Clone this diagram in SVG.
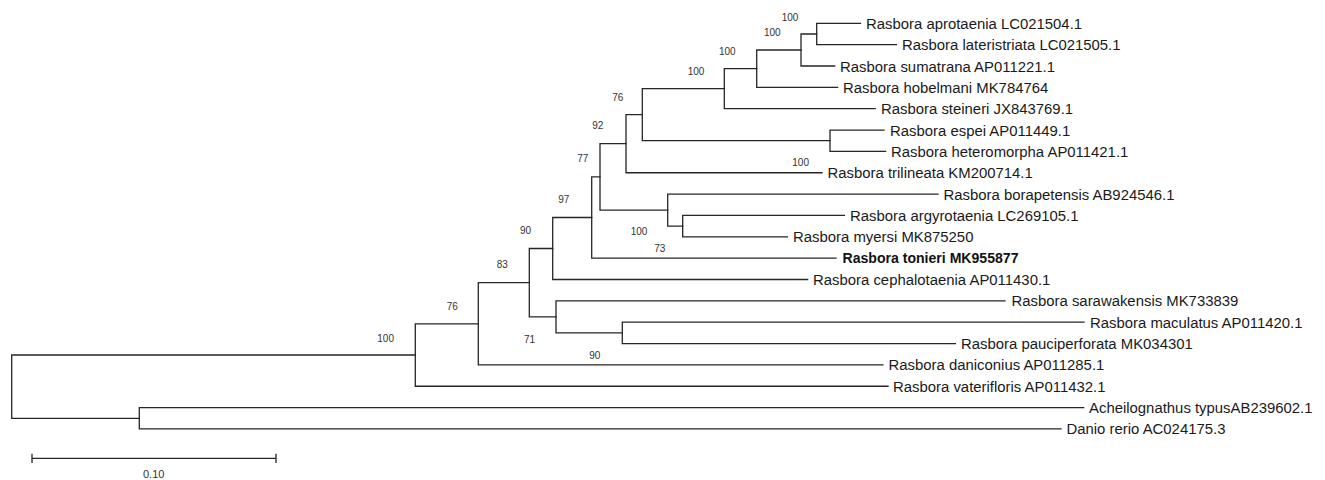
<svg xmlns="http://www.w3.org/2000/svg" width="1325" height="480" viewBox="0 0 1325 480">
<style>
.br{fill:none;stroke:#262626;stroke-width:1.3;stroke-linecap:square}
.tx{font-family:"Liberation Sans",Arial,sans-serif;font-size:14.9px;fill:#1a1a1a}
.bd{font-family:"Liberation Sans",Arial,sans-serif;font-size:14px;font-weight:bold;fill:#111}
.bs{font-family:"Liberation Sans",Arial,sans-serif;font-size:10px;fill:#333}
.sc{font-family:"Liberation Sans",Arial,sans-serif;font-size:11px;fill:#333}
</style>
<rect width="1325" height="480" fill="#fff"/>
<g id="connectors" class="br">
<!-- N1 -->
<path d="M816.7 23.3V44.65M816.7 23.3H860.5M816.7 44.65H896.4"/>
<!-- N2 -->
<path d="M801 34V66M801 34H816.7M801 66H834.7"/>
<!-- N3 -->
<path d="M756.7 50V87.35M756.7 50H801M756.7 87.35H837.6"/>
<!-- N4 -->
<path d="M724.3 68.7V108.7M724.3 68.7H756.7M724.3 108.7H875.2"/>
<!-- N5 -->
<path d="M830 130.05V151.4M830 130.05H884M830 151.4H885.6"/>
<!-- N6 -->
<path d="M642.3 88.7V140.7M642.3 88.7H724.3M642.3 140.7H830"/>
<!-- N7 -->
<path d="M626 114.7V172.75M626 114.7H642.3M626 172.75H822"/>
<!-- N8 -->
<path d="M682.7 215.45V236.8M682.7 215.45H844.4M682.7 236.8H787.5"/>
<!-- N9 -->
<path d="M667.7 194.1V226.1M667.7 194.1H938M667.7 226.1H682.7"/>
<!-- N10 -->
<path d="M600 143.7V210.1M600 143.7H626M600 210.1H667.7"/>
<!-- N11 -->
<path d="M591.7 176.9V258.15M591.7 176.9H600M591.7 258.15H836"/>
<!-- N12 -->
<path d="M552.7 217.5V279.5M552.7 217.5H591.7M552.7 279.5H807.6"/>
<!-- N13 -->
<path d="M622.3 322.2V343.55M622.3 322.2H1084M622.3 343.55H955.4"/>
<!-- N14 -->
<path d="M556 300.85V332.9M556 300.85H1005M556 332.9H622.3"/>
<!-- N15 -->
<path d="M529.3 248.5V316.9M529.3 248.5H552.7M529.3 316.9H556"/>
<!-- N16 -->
<path d="M478.3 282.7V364.9M478.3 282.7H529.3M478.3 364.9H882.9"/>
<!-- N17 -->
<path d="M415.3 323.8V386.25M415.3 323.8H478.3M415.3 386.25H888"/>
<!-- N18 -->
<path d="M139.3 407.6V428.95M139.3 407.6H1083.7M139.3 428.95H1061"/>
<!-- root -->
<path d="M11.7 355V418.3M11.7 355H415.3M11.7 418.3H139.3"/>
</g>
<g id="taxa">
<g id="t-aprotaenia"><text class="tx" x="866" y="28.8">Rasbora aprotaenia LC021504.1</text></g>
<g id="t-lateristriata"><text class="tx" x="902" y="50.15">Rasbora lateristriata LC021505.1</text></g>
<g id="t-sumatrana"><text class="tx" x="840" y="71.5">Rasbora sumatrana AP011221.1</text></g>
<g id="t-hobelmani"><text class="tx" x="843" y="92.85">Rasbora hobelmani MK784764</text></g>
<g id="t-steineri"><text class="tx" x="881" y="114.2">Rasbora steineri JX843769.1</text></g>
<g id="t-espei"><text class="tx" x="890" y="135.55">Rasbora espei AP011449.1</text></g>
<g id="t-heteromorpha"><text class="tx" x="891" y="156.9">Rasbora heteromorpha AP011421.1</text></g>
<g id="t-trilineata"><text class="tx" x="827.5" y="178.25">Rasbora trilineata KM200714.1</text></g>
<g id="t-borapetensis"><text class="tx" x="943.5" y="199.6">Rasbora borapetensis AB924546.1</text></g>
<g id="t-argyrotaenia"><text class="tx" x="850" y="220.95">Rasbora argyrotaenia LC269105.1</text></g>
<g id="t-myersi"><text class="tx" x="793" y="242.3">Rasbora myersi MK875250</text></g>
<g id="t-tonieri"><text class="bd" x="842.5" y="263.4" textLength="176" lengthAdjust="spacingAndGlyphs">Rasbora tonieri MK955877</text></g>
<g id="t-cephalotaenia"><text class="tx" x="813" y="285">Rasbora cephalotaenia AP011430.1</text></g>
<g id="t-sarawakensis"><text class="tx" x="1011.5" y="306.35">Rasbora sarawakensis MK733839</text></g>
<g id="t-maculatus"><text class="tx" x="1090" y="327.7">Rasbora maculatus AP011420.1</text></g>
<g id="t-pauciperforata"><text class="tx" x="961" y="349.05">Rasbora pauciperforata MK034301</text></g>
<g id="t-daniconius"><text class="tx" x="888.5" y="370.4">Rasbora daniconius AP011285.1</text></g>
<g id="t-vaterifloris"><text class="tx" x="893" y="391.75">Rasbora vaterifloris AP011432.1</text></g>
<g id="t-acheilognathus"><text class="tx" x="1089" y="413.1">Acheilognathus typusAB239602.1</text></g>
<g id="t-danio"><text class="tx" x="1066.5" y="434.45">Danio rerio AC024175.3</text></g>
</g>
<g id="bootstrap">
<text class="bs" x="781.7" y="20.7">100</text>
<text class="bs" x="764" y="36">100</text>
<text class="bs" x="719" y="55">100</text>
<text class="bs" x="687.7" y="75">100</text>
<text class="bs" x="612.3" y="101">76</text>
<text class="bs" x="592.3" y="128.5">92</text>
<text class="bs" x="577.3" y="161.7">77</text>
<text class="bs" x="558.3" y="203.3">97</text>
<text class="bs" x="520" y="234">90</text>
<text class="bs" x="496.7" y="268.3">83</text>
<text class="bs" x="792.3" y="166">100</text>
<text class="bs" x="630.7" y="235">100</text>
<text class="bs" x="654.3" y="251.7">73</text>
<text class="bs" x="446.7" y="310">76</text>
<text class="bs" x="377.3" y="341.7">100</text>
<text class="bs" x="524" y="342.7">71</text>
<text class="bs" x="589.3" y="359.3">90</text>
</g>
<g id="scalebar">
<path class="br" d="M32 458.3H276M32 454.3V462.3M276 454.3V462.3"/>
<text class="sc" x="153.7" y="477.5" text-anchor="middle">0.10</text>
</g>
</svg>
